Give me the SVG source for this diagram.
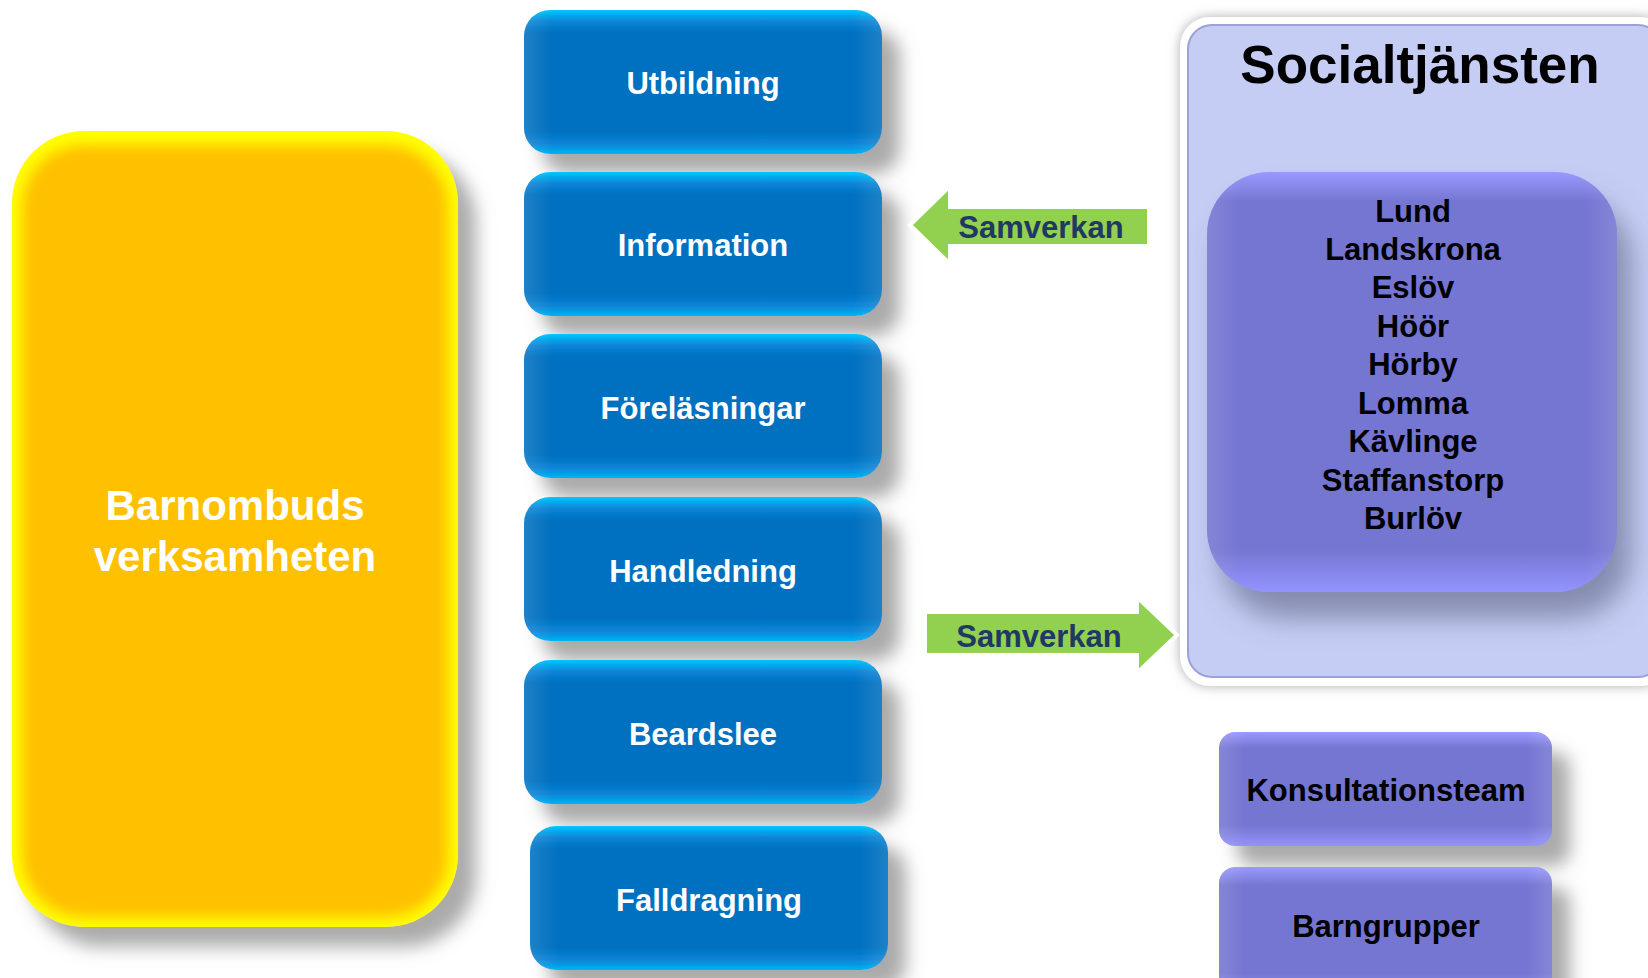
<svg xmlns="http://www.w3.org/2000/svg" width="1648" height="978" viewBox="0 0 1648 978">
<defs>
<filter id="shadow" x="-20%" y="-20%" width="150%" height="150%">
<feDropShadow dx="18" dy="20" stdDeviation="9" flood-color="#a6a6a6" flood-opacity="0.95"/>
</filter>
<filter id="shadowBig" x="-20%" y="-20%" width="150%" height="150%">
<feDropShadow dx="14" dy="26" stdDeviation="14" flood-color="#5a6080" flood-opacity="0.6"/>
</filter>
<filter id="glow" x="-10%" y="-10%" width="120%" height="120%">
<feDropShadow dx="0" dy="0" stdDeviation="6" flood-color="#777" flood-opacity="0.6"/>
</filter>
<filter id="soft" x="-10%" y="-10%" width="120%" height="120%">
<feGaussianBlur stdDeviation="7"/>
</filter>
<linearGradient id="blueGrad" x1="0" y1="0" x2="0" y2="1">
<stop offset="0" stop-color="#00c8ff"/>
<stop offset="0.08" stop-color="#0a84d6"/>
<stop offset="0.16" stop-color="#0070c0"/>
<stop offset="0.84" stop-color="#0070c0"/>
<stop offset="0.93" stop-color="#0a84d6"/>
<stop offset="1" stop-color="#00b4f4"/>
</linearGradient>
<linearGradient id="sideGrad" x1="0" y1="0" x2="1" y2="0">
<stop offset="0" stop-color="#ffffff" stop-opacity="0.12"/>
<stop offset="0.08" stop-color="#ffffff" stop-opacity="0"/>
<stop offset="0.92" stop-color="#ffffff" stop-opacity="0"/>
<stop offset="1" stop-color="#ffffff" stop-opacity="0.12"/>
</linearGradient>
<linearGradient id="lavGrad" x1="0" y1="0" x2="0" y2="1">
<stop offset="0" stop-color="#9a9aff"/>
<stop offset="0.14" stop-color="#7575d2"/>
<stop offset="0.82" stop-color="#7575d2"/>
<stop offset="1" stop-color="#9292fa"/>
</linearGradient>
<linearGradient id="bigLavGrad" x1="0" y1="0" x2="0" y2="1">
<stop offset="0" stop-color="#9a9aff"/>
<stop offset="0.07" stop-color="#7575d2"/>
<stop offset="0.9" stop-color="#7575d2"/>
<stop offset="1" stop-color="#9494ff"/>
</linearGradient>
<style>
.lbl{font-family:"Liberation Sans",Arial,sans-serif;font-weight:bold;text-anchor:middle}
.white{fill:#ffffff;font-size:31px}
.black{fill:#000000;font-size:31px}
.arrowTxt{fill:#1f3864;font-size:31px}
.arrow{fill:#92d050;stroke:#ffffff;stroke-width:4}
.blue{fill:url(#blueGrad)}
.side{fill:url(#sideGrad)}
</style>
</defs>

<g id="barnombud">
<rect x="12" y="131" width="446" height="796" rx="72" fill="#ffff00" filter="url(#shadow)"/>
<rect x="22" y="145" width="426" height="772" rx="62" fill="#ffc000" filter="url(#soft)"/>
<text class="lbl white" x="235" y="520" style="font-size:42px">Barnombuds</text>
<text class="lbl white" x="235" y="571" style="font-size:42px">verksamheten</text>
</g>

<g id="utbildning">
<rect class="blue" x="524" y="10" width="358" height="144" rx="26" filter="url(#shadow)"/>
<rect class="side" x="524" y="10" width="358" height="144" rx="26"/>
<text class="lbl white" x="703" y="94">Utbildning</text>
</g>
<g id="information">
<rect class="blue" x="524" y="172" width="358" height="144" rx="26" filter="url(#shadow)"/>
<rect class="side" x="524" y="172" width="358" height="144" rx="26"/>
<text class="lbl white" x="703" y="256">Information</text>
</g>
<g id="forelasningar">
<rect class="blue" x="524" y="334" width="358" height="144" rx="26" filter="url(#shadow)"/>
<rect class="side" x="524" y="334" width="358" height="144" rx="26"/>
<text class="lbl white" x="703" y="419">Föreläsningar</text>
</g>
<g id="handledning">
<rect class="blue" x="524" y="497" width="358" height="144" rx="26" filter="url(#shadow)"/>
<rect class="side" x="524" y="497" width="358" height="144" rx="26"/>
<text class="lbl white" x="703" y="582">Handledning</text>
</g>
<g id="beardslee">
<rect class="blue" x="524" y="660" width="358" height="144" rx="26" filter="url(#shadow)"/>
<rect class="side" x="524" y="660" width="358" height="144" rx="26"/>
<text class="lbl white" x="703" y="745">Beardslee</text>
</g>
<g id="falldragning">
<rect class="blue" x="530" y="826" width="358" height="144" rx="26" filter="url(#shadow)"/>
<rect class="side" x="530" y="826" width="358" height="144" rx="26"/>
<text class="lbl white" x="709" y="911">Falldragning</text>
</g>

<g id="socialtjansten">
<rect x="1180" y="17" width="490" height="669" rx="30" fill="#ffffff" filter="url(#glow)"/>
<rect x="1188" y="25" width="474" height="652" rx="24" fill="#c5cdf5" stroke="#9aa2d6" stroke-width="2"/>
<text class="lbl" x="1420" y="83" style="font-size:53px;fill:#000">Socialtjänsten</text>
</g>

<g id="kommuner">
<rect x="1207" y="172" width="410" height="420" rx="62" fill="url(#bigLavGrad)" filter="url(#shadowBig)"/>
<rect class="side" x="1207" y="172" width="410" height="420" rx="62"/>
<text class="lbl black" x="1413" y="222">Lund</text>
<text class="lbl black" x="1413" y="260">Landskrona</text>
<text class="lbl black" x="1413" y="298">Eslöv</text>
<text class="lbl black" x="1413" y="337">Höör</text>
<text class="lbl black" x="1413" y="375">Hörby</text>
<text class="lbl black" x="1413" y="414">Lomma</text>
<text class="lbl black" x="1413" y="452">Kävlinge</text>
<text class="lbl black" x="1413" y="491">Staffanstorp</text>
<text class="lbl black" x="1413" y="529">Burlöv</text>
</g>

<g id="konsultationsteam">
<rect x="1219" y="732" width="333" height="114" rx="16" fill="url(#lavGrad)" filter="url(#shadow)"/>
<rect class="side" x="1219" y="732" width="333" height="114" rx="16"/>
<text class="lbl black" x="1386" y="801">Konsultationsteam</text>
</g>
<g id="barngrupper">
<rect x="1219" y="867" width="333" height="130" rx="16" fill="url(#lavGrad)" filter="url(#shadow)"/>
<rect class="side" x="1219" y="867" width="333" height="130" rx="16"/>
<text class="lbl black" x="1386" y="937">Barngrupper</text>
</g>

<g id="connectors">
<g id="samverkan1">
<polygon class="arrow" points="910,225 950,186 950,207 1149,207 1149,246 950,246 950,264"/>
<text class="lbl arrowTxt" x="1041" y="238">Samverkan</text>
</g>
<g id="samverkan2">
<polygon class="arrow" points="925,612 1137,612 1137,597 1177,635 1137,673 1137,655 925,655"/>
<text class="lbl arrowTxt" x="1039" y="647">Samverkan</text>
</g>
</g>
</svg>
